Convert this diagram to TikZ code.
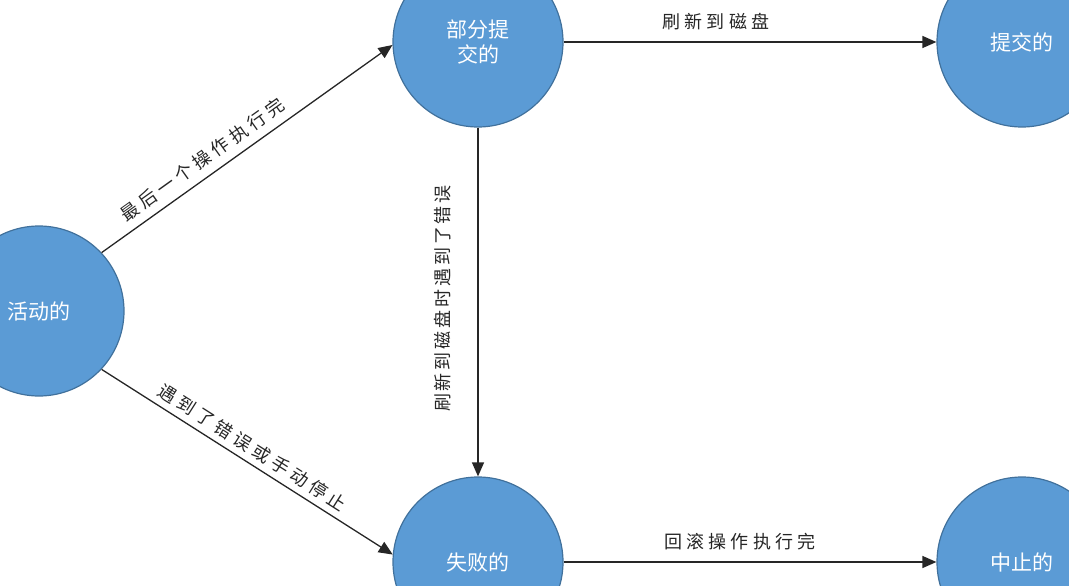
\documentclass[tikz,border=0pt]{standalone}
\usepackage{fontspec}
\newfontfamily\cjk{Noto Sans CJK SC}
\newfontfamily\cjkw[LetterSpace=24]{Noto Sans CJK SC}
\newfontfamily\cjkv[LetterSpace=16]{Noto Sans CJK SC}
\usetikzlibrary{arrows.meta}
\definecolor{stfill}{HTML}{5B9BD5}
\definecolor{stdraw}{HTML}{41719C}
\tikzset{
  state/.style={circle, fill=stfill, draw=stdraw, line width=1.2pt, minimum size=170pt, inner sep=0pt, text=white, font=\cjk\fontsize{21}{25}\selectfont, align=center},
  conn/.style={line width=1.3pt, draw=black!85, -{Triangle[length=14pt,width=12pt]}},
  lbl/.style={font=\cjkw\fontsize{18}{20}\selectfont, text=black!85},
  vlbl/.style={font=\cjkv\fontsize{18}{20}\selectfont, text=black!85}
}
\begin{document}
\begin{tikzpicture}[x=1pt,y=-1pt]
\useasboundingbox (0,0) rectangle (1069,586);
\clip (0,0) rectangle (1069,586);
\node[state] (act) at (39,311) {活动的};
\node[state] (part) at (478,42) {部分提\\交的};
\node[state] (comm) at (1022,42) {提交的};
\node[state] (fail) at (478,562) {失败的};
\node[state] (abort) at (1022,562) {中止的};
\draw[conn] (act.43) -- node[lbl, sloped, above, pos=0.38, yshift=5pt] {最后一个操作执行完} (part.182);
\draw[conn] (act.-43) -- node[lbl, sloped, above, pos=0.49, yshift=3pt] {遇到了错误或手动停止} (fail.175);
\draw[conn] (part) -- node[lbl, above, yshift=8pt, xshift=-34pt] {刷新到磁盘} (comm);
\draw[conn] (fail) -- node[lbl, above, yshift=8pt, xshift=-10pt] {回滚操作执行完} (abort);
\draw[conn] (part) -- node[vlbl, rotate=90, pos=0.49, yshift=35pt] {刷新到磁盘时遇到了错误} (fail);
\end{tikzpicture}
\end{document}
